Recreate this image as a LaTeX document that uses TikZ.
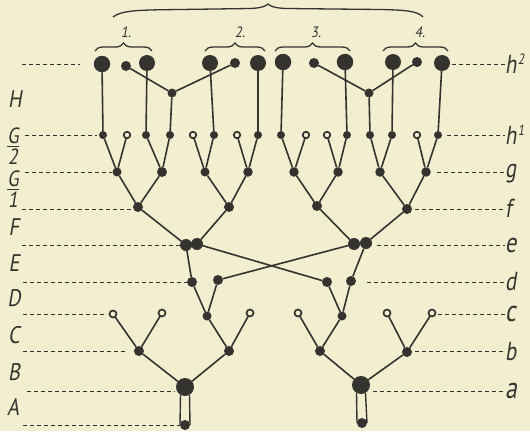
\documentclass[tikz,border=0pt]{standalone}
\usepackage{graphicx}
\usepackage{amsmath}
\usepackage{fontspec}
\newfontfamily\labfont[FakeSlant=0.2]{PT Sans}
\usetikzlibrary{decorations.pathreplacing}
\definecolor{bg}{RGB}{242,238,208}
\definecolor{ink}{RGB}{52,51,47}
\newcommand\labtxt[3]{\scalebox{#2}[1]{\fontsize{#1}{#1}\selectfont\labfont #3}}
\newcommand\supnum[1]{\kern2pt\raisebox{9pt}{\fontsize{15}{15}\selectfont #1}}
\begin{document}
\begin{tikzpicture}[x=1pt,y=-1pt,
  every node/.style={inner sep=0pt, outer sep=0pt},
  fdot/.style={circle, fill=ink, minimum size=#1},
  fdot/.default=8,
  odot/.style={circle, draw=ink, line width=1.7pt, fill=bg, minimum size=#1},
  odot/.default=6.5,
  edge/.style={draw=ink, line width=1.6pt},
  guide/.style={draw=ink, line width=0.9pt, dash pattern=on 4pt off 3pt},
  bracelin/.style={draw=ink, line width=1.3pt},
  smallbrace/.style={bracelin, decorate, decoration={brace, amplitude=8pt}},
  lab/.style={text=ink},
]
\fill[bg] (0,0) rectangle (530,431);
\useasboundingbox (0,0) rectangle (530,431);

% ---- top row (h2)
\node[fdot=16.5] (T1) at (102,64) {};
\node[fdot=10] (T2) at (126,66) {};
\node[fdot=16] (T3) at (147,63) {};
\node[fdot=16] (T4) at (210,63) {};
\node[fdot=10] (T5) at (235,63) {};
\node[fdot=16] (T6) at (258,63) {};
\node[fdot=16.5] (T7) at (283,62) {};
\node[fdot=10] (T8) at (314,63) {};
\node[fdot=16.5] (T9) at (345,62) {};
\node[fdot=16] (T10) at (393,62) {};
\node[fdot=10] (T11) at (417,62) {};
\node[fdot=16] (T12) at (442,63) {};
\node[fdot=9] (JL) at (172,93) {};
\node[fdot=9] (JR) at (369,93) {};

% ---- h1 row
\node[fdot=8] (H1) at (103,135) {};
\node[odot] (H2) at (127,135) {};
\node[fdot=8] (H3) at (146,135) {};
\node[fdot=8] (H4) at (170,135) {};
\node[odot] (H5) at (193,135) {};
\node[fdot=8] (H6) at (214,135) {};
\node[odot] (H7) at (237,135) {};
\node[fdot=8] (H8) at (258,135) {};
\node[fdot=8] (H9) at (281,135) {};
\node[odot] (H10) at (306,135) {};
\node[odot] (H11) at (327,135) {};
\node[fdot=8] (H12) at (347,135) {};
\node[fdot=8] (H13) at (370,135) {};
\node[fdot=8] (H14) at (392,135) {};
\node[odot] (H15) at (417,135) {};
\node[fdot=8] (H16) at (438,135) {};

% ---- g row
\node[fdot=9] (G1) at (117,172) {};
\node[fdot=10] (G2) at (162,172) {};
\node[fdot=9] (G3) at (205,172) {};
\node[fdot=9.5] (G4) at (248,172) {};
\node[fdot=9.5] (G5) at (294,172) {};
\node[fdot=9.5] (G6) at (338,172) {};
\node[fdot=9.5] (G7) at (380,172) {};
\node[fdot=9.5] (G8) at (426,172) {};

% ---- f row
\node[fdot=10] (F1) at (138,207) {};
\node[fdot=10] (F2) at (229,207) {};
\node[fdot=10] (F3) at (317,206) {};
\node[fdot=10] (F4) at (407,209) {};

% ---- e row (double knots)
\node[fdot=12] (E1a) at (186,245) {};
\node[fdot=12] (E1b) at (197,244) {};
\node[fdot=12] (E2a) at (354,244) {};
\node[fdot=12] (E2b) at (366,243) {};

% ---- d row
\node[fdot=10] (D1) at (192,282) {};
\node[fdot=10] (D2) at (218,280) {};
\node[fdot=10] (D3) at (327,282) {};
\node[fdot=10] (D4) at (351,281) {};

% ---- c row
\node[odot=7] (C1) at (113,314) {};
\node[odot=7] (C2) at (162,313) {};
\node[fdot=9] (C3) at (207,316) {};
\node[odot=7] (C4) at (250,313) {};
\node[odot=7] (C5) at (298,313) {};
\node[fdot=9] (C6) at (342,316) {};
\node[odot=7] (C7) at (387,313) {};
\node[odot=7] (C8) at (432,313) {};

% ---- b row
\node[fdot=10] (B1) at (139,351) {};
\node[fdot=10] (B2) at (229,351) {};
\node[fdot=10] (B3) at (320,351) {};
\node[fdot=10] (B4) at (407,352) {};

% ---- a row and bottom
\node[fdot=18] (A1) at (185,387) {};
\node[fdot=18] (A2) at (361,385) {};
\node[fdot=10] (Z1) at (185,425) {};
\node[fdot=10] (Z2) at (362,423) {};

% ---- connectors
\foreach \p/\q in {T1/H1, T3/H3, T2/JL, JL/T5, JL/H4, T4/H6, T6/H8,
  T7/H9, T9/H12, T8/JR, JR/T11, JR/H13, T10/H14, T12/H16,
  G1/H1, G1/H2, G2/H3, G2/H4, G3/H5, G3/H6, G4/H7, G4/H8,
  G5/H9, G5/H10, G6/H11, G6/H12, G7/H13, G7/H14, G8/H15, G8/H16,
  F1/G1, F1/G2, F2/G3, F2/G4, F3/G5, F3/G6, F4/G7, F4/G8,
  F1/E1a, F2/E1b, F3/E2a, F4/E2b,
  E1a/D1, E1b/D3, E2a/D2, E2b/D4,
  D1/C3, D2/C3, D3/C6, D4/C6,
  B1/C1, B1/C2, B2/C3, B2/C4, B3/C5, B3/C6, B4/C7, B4/C8,
  A1/B1, A1/B2, A2/B3, A2/B4}
  \draw[edge] (\p) -- (\q);
\draw[edge, line width=1.4pt] (A1.240) -- (Z1.180);
\draw[edge, line width=1.4pt] (A1.300) -- (Z1.0);
\draw[edge, line width=1.4pt] (A2.240) -- (Z2.180);
\draw[edge, line width=1.4pt] (A2.300) -- (Z2.0);

% ---- braces
\draw[bracelin] (113,17) .. controls (122,10) and (140,10) .. (180,9.5) -- (250,8.5)
  .. controls (262,8) and (266,6) .. (268,4) .. controls (270,6) and (274,8) .. (286,8.5)
  -- (380,9.5) .. controls (405,10) and (418,11) .. (423,17);
\draw[smallbrace] (95,51) -- (152,51);
\draw[smallbrace] (205,51) -- (265,51);
\draw[smallbrace] (275,51) -- (350,51);
\draw[smallbrace] (383,51) -- (448,51);
\node[lab] (n1) at (126,32) {\labtxt{15}{0.9}{1.}};
\node[lab] (n2) at (240,32) {\labtxt{15}{0.9}{2.}};
\node[lab] (n3) at (316,32) {\labtxt{15}{0.9}{3.}};
\node[lab] (n4) at (420,32) {\labtxt{15}{0.9}{4.}};

% ---- left labels
\node[lab] (LH) at (15,99) {\labtxt{24}{0.85}{H}};
\node[lab] (LG2) at (13,146) {\labtxt{22}{0.85}{\(\genfrac{}{}{1.5pt}{1}{\mbox{G}}{\mbox{2}}\)}};
\node[lab] (LG1) at (13,189) {\labtxt{22}{0.85}{\(\genfrac{}{}{1.5pt}{1}{\mbox{G}}{\mbox{1}}\)}};
\node[lab] (LF) at (14,227) {\labtxt{24}{0.85}{F}};
\node[lab] (LE) at (14,263) {\labtxt{24}{0.85}{E}};
\node[lab] (LD) at (14,298) {\labtxt{24}{0.85}{D}};
\node[lab] (LC) at (14,335) {\labtxt{24}{0.85}{C}};
\node[lab] (LB) at (14,372) {\labtxt{24}{0.85}{B}};
\node[lab] (LA) at (13,407) {\labtxt{24}{0.85}{A}};

% ---- left guide lines
\coordinate (l1a) at (22,64);  \coordinate (l1b) at (80,64);
\coordinate (l2a) at (25,135); \coordinate (l2b) at (97,135);
\coordinate (l3a) at (25,172); \coordinate (l3b) at (112,172);
\coordinate (l4a) at (22,209); \coordinate (l4b) at (133,209);
\coordinate (l5a) at (22,245); \coordinate (l5b) at (180,245);
\coordinate (l6a) at (23,282); \coordinate (l6b) at (187,282);
\coordinate (l7a) at (23,314); \coordinate (l7b) at (107,314);
\coordinate (l8a) at (23,351); \coordinate (l8b) at (125,351);
\coordinate (l9a) at (27,391); \coordinate (l9b) at (175,391);
\coordinate (l10a) at (23,425); \coordinate (l10b) at (180,425);
\foreach \i in {1,...,10} \draw[guide] (l\i a) -- (l\i b);

% ---- right labels
\node[lab, anchor=west] (Rh2) at (505,64) {\labtxt{26}{0.8}{h\supnum{2}}};
\node[lab, anchor=west] (Rh1) at (505,135) {\labtxt{26}{0.8}{h\supnum{1}}};
\node[lab, anchor=base west] (Rg) at (505,177) {\labtxt{26}{0.8}{g}};
\node[lab, anchor=west] (Rf) at (505,208) {\labtxt{26}{0.8}{f}};
\node[lab, anchor=west] (Re) at (505,245) {\labtxt{28}{0.8}{e}};
\node[lab, anchor=west] (Rd) at (505,282) {\labtxt{26}{0.8}{d}};
\node[lab, anchor=west] (Rc) at (505,314) {\labtxt{30}{0.8}{c}};
\node[lab, anchor=west] (Rb) at (505,352) {\labtxt{26}{0.8}{b}};
\node[lab, anchor=west] (Ra) at (505,391) {\labtxt{30}{0.8}{a}};

% ---- right guide lines
\coordinate (r1) at (452,64);
\coordinate (r2) at (447,135);
\coordinate (r3) at (437,172);
\coordinate (r4) at (415,209);
\coordinate (r5) at (377,245);
\coordinate (r6) at (367,282);
\coordinate (r7) at (438,314);
\coordinate (r8) at (415,351);
\coordinate (r9) at (373,391);
\draw[guide] (r1) -- (Rh2.west |- r1);
\draw[guide] (r2) -- (Rh1.west |- r2);
\draw[guide] (r3) -- (Rg.west |- r3);
\draw[guide] (r4) -- (Rf.west |- r4);
\draw[guide] (r5) -- (Re.west |- r5);
\draw[guide] (r6) -- (Rd.west |- r6);
\draw[guide] (r7) -- (Rc.west |- r7);
\draw[guide] (r8) -- (Rb.west |- r8);
\draw[guide] (r9) -- (Ra.west |- r9);
\end{tikzpicture}
\end{document}
